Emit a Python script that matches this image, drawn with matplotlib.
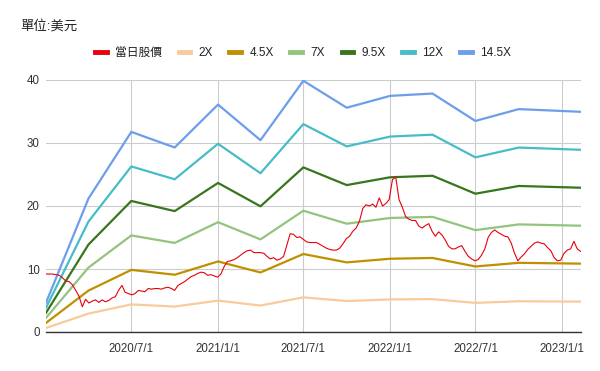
"""PE band chart: daily share price against trailing-EPS multiples."""

import matplotlib
matplotlib.use("Agg")
import matplotlib.pyplot as plt
import pandas as pd

plt.rcParams["font.family"] = ["Liberation Sans", "Noto Sans CJK TC", "DejaVu Sans"]

# quarterly points of the multiple bands
band_dates = ["2020-01-02", "2020-04-01", "2020-07-01", "2020-10-01", "2021-01-01",
              "2021-04-01", "2021-07-01", "2021-10-01", "2022-01-01", "2022-04-01",
              "2022-07-01", "2022-10-01", "2023-02-10"]
band_2x = [0.64, 2.92, 4.38, 4.04, 4.98, 4.20, 5.50, 4.91, 5.17, 5.22, 4.62, 4.88, 4.82]
band_4_5x = [1.44, 6.57, 9.86, 9.09, 11.2, 9.45, 12.38, 11.05, 11.63, 11.75, 10.4, 10.98, 10.85]
band_7x = [2.24, 10.22, 15.33, 14.14, 17.43, 14.7, 19.25, 17.19, 18.1, 18.27, 16.17, 17.08, 16.87]
band_9_5x = [3.04, 13.87, 20.8, 19.19, 23.66, 19.95, 26.13, 23.32, 24.56, 24.8, 21.95, 23.18, 22.9]
band_12x = [3.84, 17.52, 26.28, 24.24, 29.88, 25.2, 33.0, 29.46, 31.02, 31.32, 27.72, 29.28, 28.92]
band_14_5x = [4.64, 21.17, 31.76, 29.29, 36.1, 30.45, 39.88, 35.6, 37.48, 37.85, 33.5, 35.38, 34.95]

# weekly closing price, starting 2020-01-02
price_start = "2020-01-02"
price = [
    9.2, 9.2, 9.2, 9.1, 9.0, 8.6, 8.1, 8.0, 7.5, 6.6,
    5.7, 4.0, 5.2, 4.6, 4.9, 5.1, 4.7, 5.1, 4.8, 5.0,
    5.4, 5.6, 6.6, 7.4, 6.3, 6.1, 5.9, 6.1, 6.6, 6.5,
    6.4, 6.9, 6.8, 6.9, 6.9, 6.8, 7.0, 7.1, 6.9, 6.6,
    7.4, 7.7, 8.0, 8.4, 8.8, 9.0, 9.3, 9.5, 9.4, 9.0,
    9.1, 8.9, 8.7, 9.2, 10.4, 11.2, 11.3, 11.5, 11.8, 12.2,
    12.6, 12.9, 13.0, 12.6, 12.6, 12.6, 12.5, 12.0, 11.6, 11.8,
    11.4, 11.6, 12.0, 13.8, 15.6, 15.5, 15.0, 15.1, 14.7, 14.3,
    14.2, 14.2, 14.2, 13.9, 13.6, 13.3, 13.1, 13.0, 13.0, 13.3,
    14.0, 14.8, 15.2, 16.0, 16.5, 17.6, 19.6, 20.2, 20.0, 20.3,
    19.8, 21.3, 20.0, 20.4, 21.0, 24.2, 24.6, 21.0, 19.8, 18.3,
    17.9, 17.7, 17.7, 16.8, 16.5, 16.9, 17.2, 16.0, 15.2, 15.9,
    15.4, 14.6, 13.6, 13.2, 13.2, 13.5, 13.7, 12.8, 12.0, 11.6,
    11.3, 11.5, 12.2, 13.2, 15.0, 15.8, 16.2, 15.8, 15.5, 15.2,
    15.1, 14.1, 12.5, 11.3, 11.9, 12.4, 13.1, 13.6, 14.1, 14.3,
    14.1, 14.0, 13.4, 12.9, 11.8, 11.3, 11.4, 12.5, 13.0, 13.2,
    14.4, 13.2, 12.8,
]

band_labels = ["2X", "4.5X", "7X", "9.5X", "12X", "14.5X"]
band_colors = ["#f9cb9c", "#bf9000", "#93c47d", "#38761d", "#46bdc6", "#6d9eeb"]
price_label = "當日股價"
price_color = "#e8000b"

x_ticks = ["2020-07-01", "2021-01-01", "2021-07-01", "2022-01-01", "2022-07-01", "2023-01-01"]
x_tick_labels = ["2020/7/1", "2021/1/1", "2021/7/1", "2022/1/1", "2022/7/1", "2023/1/1"]
y_ticks = [0, 10, 20, 30, 40]

fig = plt.figure(figsize=(6.0, 3.71), dpi=100)
ax = fig.add_axes([46 / 600, 39 / 371, 535 / 600, 252 / 371])

bd = pd.to_datetime(band_dates)
bands = [band_2x, band_4_5x, band_7x, band_9_5x, band_12x, band_14_5x]
handles = []
for vals, lab, col in zip(bands, band_labels, band_colors):
    h, = ax.plot(bd, vals, color=col, lw=1.6, label=lab, zorder=2, solid_joinstyle="round")
    handles.append(h)

pd_dates = pd.date_range(price_start, periods=len(price), freq="7D")
hp, = ax.plot(pd_dates, price, color=price_color, lw=0.8, label=price_label, zorder=3)
handles.insert(0, hp)

ax.set_xlim(pd.Timestamp("2020-01-02"), pd.Timestamp("2023-02-10"))
ax.set_ylim(0, 40)
ax.set_xticks(pd.to_datetime(x_ticks))
ax.set_xticklabels(x_tick_labels)
ax.set_yticks(y_ticks)
ax.tick_params(length=0, labelsize=8.3, colors="#333333")
ax.tick_params(axis="x", pad=8)
ax.tick_params(axis="y", pad=4.5)
ax.grid(True, color="#cccccc", lw=0.8)
ax.set_axisbelow(True)
for s in ["top", "right", "left"]:
    ax.spines[s].set_visible(False)
ax.spines["bottom"].set_color("#333333")
ax.spines["bottom"].set_linewidth(1.0)
ax.spines["bottom"].set_zorder(4)

fig.text(20 / 600, 1 - 27 / 371, "單位:美元", fontsize=9.6, color="#222222",
         ha="left", va="center")

leg = fig.legend(handles=handles, loc="center", bbox_to_anchor=(303 / 600, 1 - 53 / 371),
                 ncol=7, frameon=False, fontsize=8.5, handlelength=1.0,
                 handletextpad=0.7, columnspacing=1.4, borderaxespad=0)
for line in leg.get_lines():
    line.set_linewidth(3.5)
for t in leg.get_texts():
    t.set_color("#222222")

fig.savefig("out.png", dpi=100)
plt.close(fig)
